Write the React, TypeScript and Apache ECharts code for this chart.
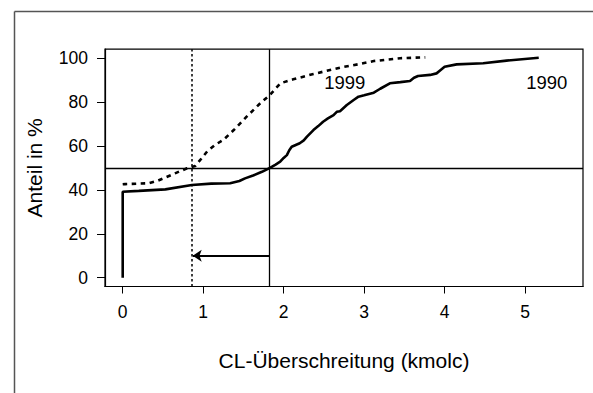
import React, { useEffect, useRef } from "react";
import * as echarts from "echarts";

const xTicks = [0, 1, 2, 3, 4, 5];
const yTicks = [0, 20, 40, 60, 80, 100];

const x1990 = [0, 0, 0.2, 0.53, 0.86, 1.1, 1.335, 1.45, 1.52, 1.62, 1.73, 1.83, 1.9, 1.957, 2.0, 2.04, 2.07, 2.1, 2.2, 2.25, 2.29, 2.37, 2.43, 2.49, 2.55, 2.62, 2.66, 2.7, 2.785, 2.87, 2.93, 3.0, 3.12, 3.2, 3.32, 3.45, 3.57, 3.62, 3.67, 3.82, 3.9, 3.94, 4.0, 4.15, 4.48, 4.77, 5.17];
const y1990 = [0, 39.1, 39.5, 40.2, 42.2, 42.8, 43, 44, 45.2, 46.5, 48.2, 50, 51.5, 52.8, 54.5, 55.8, 58, 59.6, 61.2, 62.5, 64.2, 67.2, 69, 71, 72.5, 74, 75.5, 75.8, 78.6, 80.9, 82.4, 83, 84.2, 86, 88.5, 89, 89.5, 91, 91.8, 92.3, 93, 94.2, 96, 97.1, 97.6, 98.8, 100.1];

const x1999 = [0, 0.03, 0.32, 0.44, 0.65, 0.8, 0.9, 0.98, 1.05, 1.15, 1.25, 1.38, 1.54, 1.71, 1.83, 1.96, 2.12, 2.37, 2.7, 2.95, 3.12, 3.45, 3.76];
const y1999 = [42.5, 42.6, 43, 44.2, 47.5, 49.8, 50.8, 54.3, 57.5, 60.5, 62.7, 67.2, 73.3, 79.4, 83.2, 88.5, 90.3, 92.7, 95.6, 97.3, 98.6, 99.9, 100.3];

const refY = 50;
const refX1990 = 1.82;
const refX1999 = 0.86;
const arrowY = 10;
const arrowFrom = 1.82;
const arrowTo = 0.87;
const label1999 = { text: "1999", x: 2.76, y: 89 };
const label1990 = { text: "1990", x: 5.27, y: 89 };

const FONT = "Liberation Sans, Arial, sans-serif";

export default function App() {
  const ref = useRef<HTMLDivElement>(null);
  useEffect(() => {
    if (!ref.current) return;
    const chart = echarts.init(ref.current, null, { renderer: "svg" });
    const tickStyle = { color: "#000", fontSize: 17.5, fontFamily: FONT };
    const nameStyle = { color: "#000", fontSize: 21, fontFamily: FONT };
    const lblStyle = { color: "#000", fontSize: 18.5, fontFamily: FONT };
    chart.setOption({
      animation: false,
      backgroundColor: "#fff",
      textStyle: { fontFamily: FONT },
      grid: {
        left: 105,
        right: 10,
        top: 49.2,
        bottom: 106.5,
        show: true,
        borderColor: "#000",
        borderWidth: 1.2,
        backgroundColor: "transparent",
      },
      xAxis: {
        type: "value",
        min: -0.22,
        max: 5.72,
        name: "CL-Überschreitung (kmolc)",
        nameLocation: "middle",
        nameGap: 63,
        nameTextStyle: nameStyle,
        axisLine: { show: true, onZero: false, lineStyle: { color: "#000", width: 1.2 } },
        axisTick: { show: true, customValues: xTicks, length: 7, lineStyle: { color: "#000", width: 1 } },
        axisLabel: { customValues: xTicks, margin: 16, ...tickStyle },
        splitLine: { show: false },
      },
      yAxis: {
        type: "value",
        min: -4,
        max: 104,
        name: "Anteil in %",
        nameLocation: "middle",
        nameGap: 60,
        nameTextStyle: nameStyle,
        axisLine: { show: true, onZero: false, lineStyle: { color: "#000", width: 1.2 } },
        axisTick: { show: true, customValues: yTicks, length: 8, lineStyle: { color: "#000", width: 1 } },
        axisLabel: { customValues: yTicks, margin: 17, ...tickStyle },
        splitLine: { show: false },
      },
      series: [
        {
          name: "1990",
          type: "line",
          data: x1990.map((x, i) => [x, y1990[i]]),
          showSymbol: false,
          silent: true,
          lineStyle: { color: "#000", width: 2.6, type: "solid" },
          markLine: {
            silent: true,
            symbol: ["none", "none"],
            label: { show: false },
            data: [
              { yAxis: refY, lineStyle: { color: "#000", width: 1.3, type: "solid" } },
              { xAxis: refX1990, lineStyle: { color: "#000", width: 1.3, type: "solid" } },
              [
                { coord: [arrowFrom, arrowY], symbol: "none", lineStyle: { color: "#000", width: 2.2, type: "solid" } },
                { coord: [arrowTo, arrowY], symbol: "arrow", symbolSize: 9 },
              ],
            ],
          },
          markPoint: {
            silent: true,
            symbol: "circle",
            symbolSize: 1,
            itemStyle: { color: "transparent" },
            label: { show: true, position: "inside", ...lblStyle },
            data: [{ coord: [label1990.x, label1990.y], label: { formatter: label1990.text } }],
          },
        },
        {
          name: "1999",
          type: "line",
          data: x1999.map((x, i) => [x, y1999[i]]),
          showSymbol: false,
          silent: true,
          lineStyle: { color: "#000", width: 2.6, type: [4.5, 4.5] },
          markLine: {
            silent: true,
            symbol: ["none", "none"],
            label: { show: false },
            data: [{ xAxis: refX1999, lineStyle: { color: "#000", width: 1.5, type: [2.5, 2.5] } }],
          },
          markPoint: {
            silent: true,
            symbol: "circle",
            symbolSize: 1,
            itemStyle: { color: "transparent" },
            label: { show: true, position: "inside", ...lblStyle },
            data: [{ coord: [label1999.x, label1999.y], label: { formatter: label1999.text } }],
          },
        },
      ],
      graphic: [
        { type: "line", shape: { x1: 14.5, y1: 11.5, x2: 14.5, y2: 393 }, style: { stroke: "#555", lineWidth: 1.5 } },
        { type: "line", shape: { x1: 14.5, y1: 11.5, x2: 593, y2: 11.5 }, style: { stroke: "#555", lineWidth: 1.5 } },
      ],
    });
    return () => chart.dispose();
  }, []);
  return (
    <div
      ref={ref}
      style={{ position: "fixed", left: 0, top: 0, width: 593, height: 393 }}
    />
  );
}
